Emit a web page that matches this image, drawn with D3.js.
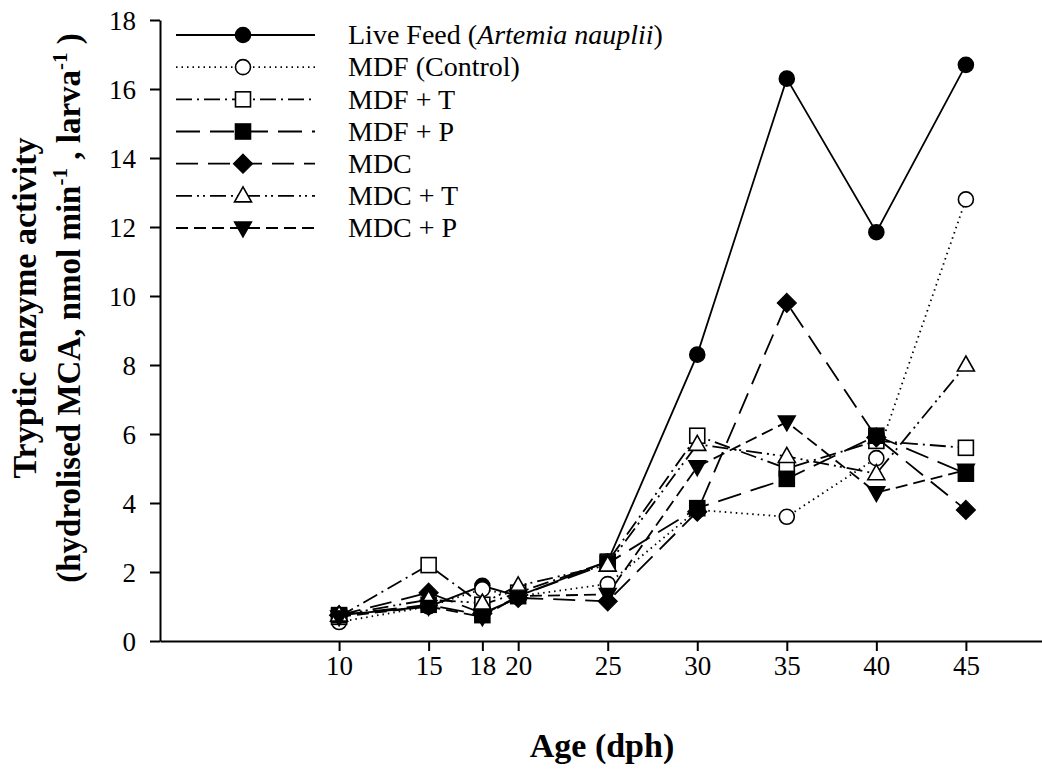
<!DOCTYPE html>
<html>
<head>
<meta charset="utf-8">
<script src="https://cdn.jsdelivr.net/npm/d3@7"></script>
<style>
  body { margin: 0; background: #fff; }
  svg { display: block; }
  text { font-family: "Liberation Serif", "Times New Roman", serif; fill: #000; }
</style>
</head>
<body>
<div id="chart"></div>
<script>
// data (tryptic enzyme activity by age, dph)
const ages = [10, 15, 18, 20, 25, 30, 35, 40, 45];
const liveFeed   = [0.75, 1.0, 1.6, 1.3, 2.3, 8.3, 16.3, 11.85, 16.7];
const mdfControl = [0.55, 1.0, 1.5, 1.3, 1.65, 3.8, 3.6, 5.3, 12.8];
const mdfT       = [0.7, 2.2, 1.05, 1.4, 2.3, 5.95, 5.0, 5.8, 5.6];
const mdfP       = [0.75, 1.05, 0.75, 1.3, 2.25, 3.85, 4.7, 5.95, 4.85];
const mdc        = [0.75, 1.4, 0.8, 1.25, 1.15, 3.75, 9.8, 5.9, 3.8];
const mdcT       = [0.75, 1.2, 1.1, 1.6, 2.2, 5.7, 5.35, 4.85, 8.0];
const mdcP       = [0.7, 1.0, 0.7, 1.3, 1.35, 5.05, 6.35, 4.3, 4.95];
const seriesNames = ["Live Feed", "MDF (Control)", "MDF + T", "MDF + P", "MDC", "MDC + T", "MDC + P"];
const yTicks = [0, 2, 4, 6, 8, 10, 12, 14, 16, 18];

// styles per series
const styles = [
  { values: liveFeed,   dash: null,             symbol: "circle",   fill: "#000" },
  { values: mdfControl, dash: "1.5,4",          symbol: "circle",   fill: "#fff" },
  { values: mdfT,       dash: "16,5,2,5",       symbol: "square",   fill: "#fff" },
  { values: mdfP,       dash: "24,10",          symbol: "square",   fill: "#000" },
  { values: mdc,        dash: "22,10",          symbol: "diamond",  fill: "#000" },
  { values: mdcT,       dash: "16,5,2,4,2,5",   symbol: "triangle", fill: "#fff" },
  { values: mdcP,       dash: "12,6",           symbol: "triangleDown", fill: "#000" }
];

const width = 1042, height = 778;
const svg = d3.select("#chart").append("svg")
  .attr("width", width)
  .attr("height", height);

// scales
const x = d3.scaleLinear().domain([0, 49.25]).range([160, 1042]);
const y = d3.scaleLinear().domain([0, 18]).range([641, 20]);

// symbols
function drawSymbol(g, type, cx, cy, fill) {
  if (type === "circle") {
    g.append("circle").attr("cx", cx).attr("cy", cy).attr("r", 7.5)
      .attr("fill", fill).attr("stroke", "#000").attr("stroke-width", 1.6);
  } else if (type === "square") {
    g.append("rect").attr("x", cx - 7.5).attr("y", cy - 7.5).attr("width", 15).attr("height", 15)
      .attr("fill", fill).attr("stroke", "#000").attr("stroke-width", 1.6);
  } else if (type === "diamond") {
    g.append("path").attr("d", `M${cx},${cy - 9.5}L${cx + 9.5},${cy}L${cx},${cy + 9.5}L${cx - 9.5},${cy}Z`)
      .attr("fill", fill).attr("stroke", "#000").attr("stroke-width", 1.2);
  } else if (type === "triangle") {
    g.append("path").attr("d", `M${cx},${cy - 9}L${cx + 8.5},${cy + 6}L${cx - 8.5},${cy + 6}Z`)
      .attr("fill", fill).attr("stroke", "#000").attr("stroke-width", 1.6);
  } else if (type === "triangleDown") {
    g.append("path").attr("d", `M${cx},${cy + 9}L${cx + 8.5},${cy - 6}L${cx - 8.5},${cy - 6}Z`)
      .attr("fill", fill).attr("stroke", "#000").attr("stroke-width", 1.4);
  }
}

// axes
const gx = svg.append("g").attr("transform", `translate(0,${y(0)})`)
  .call(d3.axisBottom(x).tickValues(ages).tickSize(10).tickSizeOuter(0).tickPadding(12));
const gy = svg.append("g").attr("transform", `translate(${x(0)},0)`)
  .call(d3.axisLeft(y).tickValues(yTicks).tickSize(10).tickSizeOuter(0).tickPadding(14));
[gx, gy].forEach(g => {
  g.select(".domain").attr("stroke", "#000").attr("stroke-width", 2);
  g.selectAll(".tick line").attr("stroke", "#000").attr("stroke-width", 2);
  g.selectAll(".tick text").attr("font-size", 27).attr("font-family", "Liberation Serif, serif").attr("fill", "#000");
});
gx.selectAll(".tick text").attr("dy", "0.45em");
gy.selectAll(".tick text").attr("dy", "0.34em");

// lines + markers
const line = d3.line().x((d, i) => x(ages[i])).y(d => y(d));
const plot = svg.append("g");
styles.forEach(s => {
  plot.append("path").datum(s.values)
    .attr("d", line)
    .attr("fill", "none")
    .attr("stroke", "#000")
    .attr("stroke-width", 1.8)
    .attr("stroke-dasharray", s.dash);
});
styles.forEach(s => {
  const g = plot.append("g");
  s.values.forEach((v, i) => drawSymbol(g, s.symbol, x(ages[i]), y(v), s.fill));
});

// legend
const legend = svg.append("g");
const legY = d3.scalePoint().domain(seriesNames).range([35, 228]);
styles.forEach((s, i) => {
  const ly = legY(seriesNames[i]);
  legend.append("line").attr("x1", 176).attr("x2", 315).attr("y1", ly).attr("y2", ly)
    .attr("stroke", "#000").attr("stroke-width", 1.8).attr("stroke-dasharray", s.dash);
  drawSymbol(legend, s.symbol, 243, ly, s.fill);
  const t = legend.append("text").attr("x", 348).attr("y", ly).attr("dy", "0.33em").attr("font-size", 28);
  if (i === 0) {
    t.append("tspan").text("Live Feed (");
    t.append("tspan").attr("font-style", "italic").text("Artemia nauplii");
    t.append("tspan").text(")");
  } else {
    t.text(seriesNames[i]);
  }
});

// axis titles
svg.append("text")
  .attr("x", 602).attr("y", 757)
  .attr("text-anchor", "middle")
  .attr("font-size", 34).attr("font-weight", "bold")
  .text("Age (dph)");

const t1 = svg.append("text")
  .attr("transform", "translate(36,308) rotate(-90)")
  .attr("text-anchor", "middle")
  .attr("font-size", 34).attr("font-weight", "bold")
  .text("Tryptic enzyme activity");
const t2 = svg.append("text")
  .attr("transform", "translate(80,308) rotate(-90)")
  .attr("text-anchor", "middle")
  .attr("font-size", 33).attr("font-weight", "bold");
t2.append("tspan").text("(hydrolised MCA, nmol min");
t2.append("tspan").attr("font-size", 21).attr("dy", -13).text("-1");
t2.append("tspan").attr("dy", 13).text(" , larva");
t2.append("tspan").attr("font-size", 21).attr("dy", -13).text("-1");
t2.append("tspan").attr("dy", 13).text(" )");
</script>
</body>
</html>
